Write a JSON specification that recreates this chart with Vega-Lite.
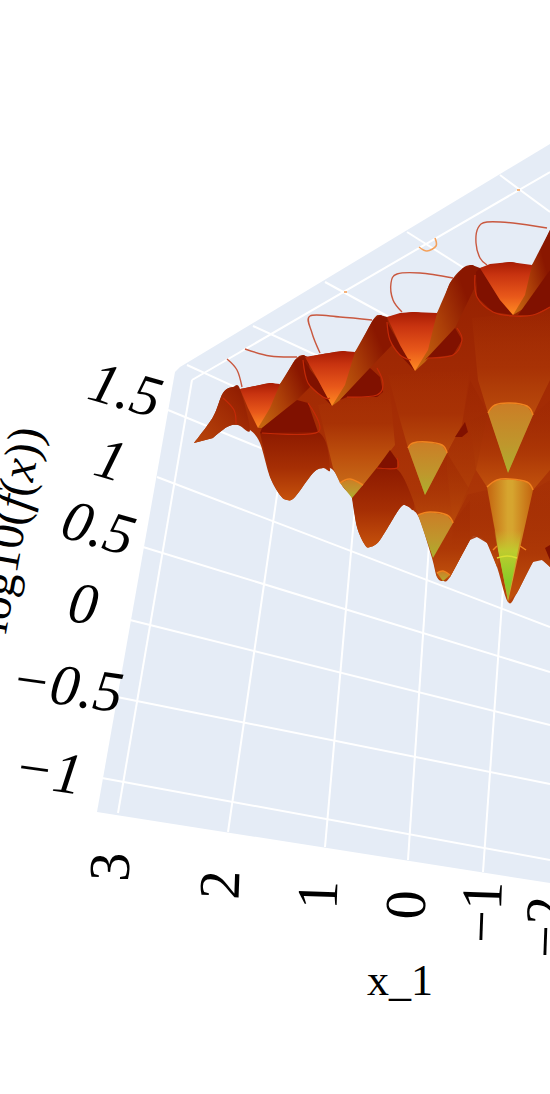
{
"$schema":"https://vega.github.io/schema/vega-lite/v6.json",
"width":550,"height":1094,"autosize":{"type":"none"},"padding":0,
"background":"white","view":{"stroke":null},
"config":{"axis":{"disable":true},"line":{"order":false}},
"encoding":{
"x":{"field":"x","type":"quantitative","scale":{"domain":[0,550],"range":[0,550]},"axis":null},
"y":{"field":"y","type":"quantitative","scale":{"domain":[0,1094],"range":[0,1094]},"axis":null},
"detail":{"field":"p"}},
"layer":[
{"data":{"values":[{"p":"w","x":97,"y":812},{"p":"w","x":175,"y":372},{"p":"w","x":180,"y":367},{"p":"w","x":550,"y":144},{"p":"w","x":550,"y":883}]},
"mark":{"type":"line","fill":"#e5ecf6","strokeWidth":0}},
{"data":{"values":[
{"x":168,"y":410,"x2":290,"y2":460},{"x":157,"y":477,"x2":550,"y2":627},{"x":143,"y":547,"x2":550,"y2":672},{"x":130,"y":620,"x2":550,"y2":725},{"x":117,"y":697,"x2":550,"y2":784},{"x":102,"y":778,"x2":550,"y2":860},
{"x":118,"y":813,"x2":192,"y2":380},{"x":228,"y":832,"x2":285,"y2":440},{"x":325,"y":847,"x2":360,"y2":450},{"x":408,"y":860,"x2":432,"y2":500},{"x":483,"y":872,"x2":505,"y2":560},
{"x":192,"y":380,"x2":550,"y2":172},{"x":187,"y":365,"x2":290,"y2":412},{"x":253,"y":326,"x2":370,"y2":380},{"x":325,"y":282,"x2":400,"y2":323},{"x":407,"y":232,"x2":475,"y2":275},{"x":500,"y":175,"x2":550,"y2":212}]},
"mark":{"type":"rule","color":"white","strokeWidth":2},"encoding":{"detail":null,"x2":{"field":"x2"},"y2":{"field":"y2"}}},
{"data":{"values":[
{"p":"a","x":547,"y":228},{"p":"a","x":513,"y":223},{"p":"a","x":487,"y":222},{"p":"a","x":478,"y":228},{"p":"a","x":476,"y":243},{"p":"a","x":480,"y":258},{"p":"a","x":487,"y":265},
{"p":"b","x":453,"y":278},{"p":"b","x":420,"y":273},{"p":"b","x":397,"y":274},{"p":"b","x":391,"y":283},{"p":"b","x":393,"y":300},{"p":"b","x":402,"y":312},
{"p":"c","x":372,"y":320},{"p":"c","x":340,"y":317},{"p":"c","x":310,"y":316},{"p":"c","x":312,"y":333},{"p":"c","x":320,"y":353},
{"p":"d","x":245,"y":349},{"p":"d","x":270,"y":356},{"p":"d","x":297,"y":357},
{"p":"e","x":227,"y":359},{"p":"e","x":237,"y":370},{"p":"e","x":242,"y":387}]},
"mark":{"type":"line","stroke":"#c9583f","strokeWidth":1.4,"interpolate":"cardinal"}},
{"data":{"values":[
{"p":"a","x":435,"y":238},{"p":"a","x":436,"y":246},{"p":"a","x":427,"y":251},{"p":"a","x":419,"y":247},
{"p":"b","x":344,"y":292},{"p":"b","x":347,"y":292},
{"p":"c","x":517,"y":190},{"p":"c","x":520,"y":190}]},
"mark":{"type":"line","stroke":"#f4a05a","strokeWidth":1.6,"interpolate":"cardinal"}},
{"data":{"values":[
{"p":"s","x":194,"y":443},{"p":"s","x":213,"y":417},{"p":"s","x":223,"y":393},{"p":"s","x":233,"y":387},{"p":"s","x":240,"y":389},{"p":"s","x":270,"y":383},{"p":"s","x":280,"y":384},{"p":"s","x":295,"y":360},{"p":"s","x":303,"y":355},{"p":"s","x":308,"y":357},{"p":"s","x":323,"y":354},{"p":"s","x":343,"y":351},{"p":"s","x":355,"y":352},{"p":"s","x":373,"y":320},{"p":"s","x":380,"y":315},{"p":"s","x":387,"y":317},{"p":"s","x":413,"y":312},{"p":"s","x":437,"y":313},{"p":"s","x":450,"y":283},{"p":"s","x":463,"y":268},{"p":"s","x":472,"y":265},{"p":"s","x":480,"y":268},{"p":"s","x":510,"y":262},{"p":"s","x":532,"y":265},{"p":"s","x":550,"y":230},{"p":"s","x":556,"y":218},{"p":"s","x":560,"y":300},{"p":"s","x":560,"y":520},{"p":"s","x":556,"y":575},
{"p":"s","x":550,"y":567},{"p":"s","x":542,"y":560},{"p":"s","x":533,"y":562},{"p":"s","x":517,"y":593},{"p":"s","x":508,"y":602},{"p":"s","x":497,"y":567},{"p":"s","x":487,"y":543},{"p":"s","x":477,"y":537},{"p":"s","x":470,"y":540},{"p":"s","x":450,"y":577},{"p":"s","x":443,"y":581},{"p":"s","x":437,"y":577},{"p":"s","x":432,"y":558},{"p":"s","x":420,"y":520},{"p":"s","x":413,"y":510},{"p":"s","x":407,"y":506},{"p":"s","x":400,"y":508},{"p":"s","x":380,"y":540},{"p":"s","x":370,"y":547},{"p":"s","x":365,"y":545},{"p":"s","x":357,"y":527},{"p":"s","x":352,"y":498},{"p":"s","x":343,"y":487},{"p":"s","x":333,"y":470},{"p":"s","x":323,"y":468},{"p":"s","x":313,"y":473},{"p":"s","x":295,"y":497},{"p":"s","x":287,"y":500},{"p":"s","x":280,"y":495},{"p":"s","x":270,"y":477},{"p":"s","x":260,"y":443},{"p":"s","x":250,"y":430},{"p":"s","x":238,"y":425},{"p":"s","x":227,"y":427},{"p":"s","x":213,"y":438}]},
"mark":{"type":"line","strokeWidth":0,"interpolate":"cardinal","fill":{"gradient":"linear","x1":0,"y1":0,"x2":0,"y2":1,"stops":[{"offset":0,"color":"#8f1c00"},{"offset":0.5,"color":"#a42c04"},{"offset":1,"color":"#b5420a"}]}}},
{"data":{"values":[
{"p":"l","x":194,"y":443},{"p":"l","x":213,"y":417},{"p":"l","x":223,"y":393},{"p":"l","x":233,"y":387},{"p":"l","x":240,"y":389},{"p":"l","x":250,"y":430},{"p":"l","x":238,"y":425},{"p":"l","x":227,"y":427},{"p":"l","x":213,"y":438}]},
"mark":{"type":"line","strokeWidth":0,"interpolate":"cardinal","fill":{"gradient":"linear","x1":0,"y1":1,"x2":1,"y2":0,"stops":[{"offset":0,"color":"#b8460c"},{"offset":0.6,"color":"#a02a04"},{"offset":1,"color":"#8a1800"}]}}},
{"data":{"values":[
{"p":"f4","x":260,"y":433},{"p":"f4","x":318,"y":432},{"p":"f4","x":330,"y":469},{"p":"f4","x":323,"y":468},{"p":"f4","x":313,"y":473},{"p":"f4","x":295,"y":497},{"p":"f4","x":287,"y":500},{"p":"f4","x":280,"y":495},{"p":"f4","x":270,"y":477},
{"p":"e3","x":352,"y":498},{"p":"e3","x":357,"y":527},{"p":"e3","x":365,"y":545},{"p":"e3","x":370,"y":547},{"p":"e3","x":380,"y":540},{"p":"e3","x":400,"y":508},{"p":"e3","x":407,"y":506},{"p":"e3","x":413,"y":510},{"p":"e3","x":413,"y":500},{"p":"e3","x":398,"y":470},{"p":"e3","x":377,"y":468},{"p":"e3","x":363,"y":485}]},
"mark":{"type":"line","strokeWidth":0,"interpolate":"cardinal","fill":{"gradient":"linear","x1":0,"y1":0,"x2":0,"y2":1,"stops":[{"offset":0,"color":"#8c1900"},{"offset":0.55,"color":"#a62f04"},{"offset":1,"color":"#c6520c"}]}}},
{"data":{"values":[
{"p":"e","x":318,"y":405},{"p":"e","x":390,"y":390},{"p":"e","x":395,"y":445},{"p":"e","x":363,"y":485},{"p":"e","x":350,"y":479},{"p":"e","x":340,"y":483},{"p":"e","x":333,"y":468},
{"p":"c","x":388,"y":375},{"p":"c","x":470,"y":370},{"p":"c","x":462,"y":425},{"p":"c","x":447,"y":453},{"p":"c","x":425,"y":495},{"p":"c","x":408,"y":448},{"p":"c","x":400,"y":420},
{"p":"a","x":472,"y":318},{"p":"a","x":550,"y":310},{"p":"a","x":550,"y":380},{"p":"a","x":533,"y":415},{"p":"a","x":508,"y":473},{"p":"a","x":488,"y":413},{"p":"a","x":478,"y":380}]},
"mark":{"type":"line","strokeWidth":0,"fill":{"gradient":"linear","x1":0,"y1":0,"x2":0,"y2":1,"stops":[{"offset":0,"color":"rgba(168,50,5,0)"},{"offset":0.35,"color":"#a83205"},{"offset":0.7,"color":"#bd500d"},{"offset":1,"color":"#c76a18"}]}}},
{"data":{"values":[
{"p":"g","x":470,"y":420},{"p":"g","x":488,"y":413},{"p":"g","x":508,"y":473},{"p":"g","x":533,"y":415},{"p":"g","x":550,"y":400},{"p":"g","x":550,"y":470},{"p":"g","x":533,"y":490},{"p":"g","x":487,"y":487},{"p":"g","x":476,"y":470},
{"p":"i","x":465,"y":495},{"p":"i","x":487,"y":490},{"p":"i","x":500,"y":560},{"p":"i","x":497,"y":567},{"p":"i","x":487,"y":543},{"p":"i","x":477,"y":537},{"p":"i","x":470,"y":540},{"p":"i","x":450,"y":577},{"p":"i","x":453,"y":523},
{"p":"j","x":453,"y":523},{"p":"j","x":470,"y":500},{"p":"j","x":470,"y":540},{"p":"j","x":450,"y":577},{"p":"j","x":443,"y":581},{"p":"j","x":437,"y":577},{"p":"j","x":433,"y":558},
{"p":"h","x":533,"y":490},{"p":"h","x":550,"y":480},{"p":"h","x":550,"y":567},{"p":"h","x":542,"y":560},{"p":"h","x":533,"y":562},{"p":"h","x":517,"y":593},{"p":"h","x":508,"y":602}]},
"mark":{"type":"line","strokeWidth":0,"fill":{"gradient":"linear","x1":0,"y1":0,"x2":0,"y2":1,"stops":[{"offset":0,"color":"rgba(154,36,2,0.2)"},{"offset":0.6,"color":"#ad3806"},{"offset":1,"color":"#c2530d"}]}}},
{"data":{"values":[
{"p":"k","x":470,"y":380},{"p":"k","x":488,"y":413},{"p":"k","x":476,"y":470},{"p":"k","x":465,"y":495},{"p":"k","x":453,"y":523},{"p":"k","x":447,"y":470},{"p":"k","x":447,"y":453},{"p":"k","x":462,"y":425},
{"p":"m","x":410,"y":490},{"p":"m","x":425,"y":495},{"p":"m","x":447,"y":453},{"p":"m","x":470,"y":490},{"p":"m","x":453,"y":523},{"p":"m","x":418,"y":515}]},
"mark":{"type":"line","strokeWidth":0,"fill":{"gradient":"linear","x1":0,"y1":0,"x2":0,"y2":1,"stops":[{"offset":0,"color":"rgba(150,32,0,0.3)"},{"offset":1,"color":"#b9490a"}]}}},
{"data":{"values":[
{"p":"r1","x":513,"y":315},{"p":"r1","x":532,"y":265},{"p":"r1","x":550,"y":230},{"p":"r1","x":550,"y":270},{"p":"r1","x":528,"y":306},
{"p":"r2","x":415,"y":371},{"p":"r2","x":437,"y":313},{"p":"r2","x":450,"y":283},{"p":"r2","x":463,"y":268},{"p":"r2","x":472,"y":265},{"p":"r2","x":480,"y":268},{"p":"r2","x":476,"y":285},{"p":"r2","x":455,"y":328},{"p":"r2","x":425,"y":362},
{"p":"r3","x":332,"y":406},{"p":"r3","x":355,"y":352},{"p":"r3","x":373,"y":320},{"p":"r3","x":380,"y":315},{"p":"r3","x":387,"y":317},{"p":"r3","x":392,"y":345},{"p":"r3","x":370,"y":368},{"p":"r3","x":340,"y":400},
{"p":"r4","x":258,"y":428},{"p":"r4","x":280,"y":384},{"p":"r4","x":295,"y":360},{"p":"r4","x":303,"y":355},{"p":"r4","x":308,"y":357},{"p":"r4","x":312,"y":385},{"p":"r4","x":297,"y":400},{"p":"r4","x":262,"y":428}]},
"mark":{"type":"line","strokeWidth":0,"fill":{"gradient":"linear","x1":0,"y1":0.8,"x2":0.8,"y2":0.3,"stops":[{"offset":0,"color":"#c4640f"},{"offset":0.5,"color":"#ac3f08"},{"offset":1,"color":"#8a1700"}]}}},
{"data":{"values":[
{"p":"d1","x":476,"y":272},{"p":"d1","x":480,"y":268},{"p":"d1","x":500,"y":300},{"p":"d1","x":513,"y":315},{"p":"d1","x":493,"y":312},{"p":"d1","x":477,"y":297},
{"p":"d1b","x":518,"y":315},{"p":"d1b","x":550,"y":270},{"p":"d1b","x":550,"y":307},{"p":"d1b","x":533,"y":315},
{"p":"d2","x":387,"y":322},{"p":"d2","x":400,"y":345},{"p":"d2","x":415,"y":371},{"p":"d2","x":400,"y":355},{"p":"d2","x":390,"y":340},
{"p":"d3","x":425,"y":360},{"p":"d3","x":455,"y":328},{"p":"d3","x":462,"y":340},{"p":"d3","x":453,"y":355},{"p":"d3","x":428,"y":358},
{"p":"d4","x":303,"y":360},{"p":"d4","x":318,"y":380},{"p":"d4","x":332,"y":406},{"p":"d4","x":323,"y":397},{"p":"d4","x":308,"y":383},
{"p":"d5","x":340,"y":400},{"p":"d5","x":370,"y":368},{"p":"d5","x":380,"y":377},{"p":"d5","x":383,"y":392},{"p":"d5","x":377,"y":397},{"p":"d5","x":347,"y":397},
{"p":"d6","x":262,"y":428},{"p":"d6","x":297,"y":400},{"p":"d6","x":308,"y":403},{"p":"d6","x":318,"y":432},{"p":"d6","x":260,"y":433},
{"p":"d7","x":377,"y":468},{"p":"d7","x":390,"y":450},{"p":"d7","x":397,"y":460},{"p":"d7","x":397,"y":468},
{"p":"d8","x":455,"y":437},{"p":"d8","x":465,"y":422},{"p":"d8","x":468,"y":432},{"p":"d8","x":462,"y":437},
{"p":"d9","x":545,"y":548},{"p":"d9","x":550,"y":545},{"p":"d9","x":550,"y":560}]},
"mark":{"type":"line","strokeWidth":0,"fill":"#801100"}},
{"data":{"values":[
{"p":"1","x":480,"y":268},{"p":"1","x":490,"y":264},{"p":"1","x":510,"y":262},{"p":"1","x":532,"y":265},{"p":"1","x":525,"y":295},{"p":"1","x":513,"y":315},{"p":"1","x":500,"y":300},
{"p":"2","x":387,"y":317},{"p":"2","x":400,"y":313},{"p":"2","x":413,"y":312},{"p":"2","x":437,"y":313},{"p":"2","x":428,"y":350},{"p":"2","x":415,"y":371},{"p":"2","x":400,"y":345},
{"p":"3","x":305,"y":357},{"p":"3","x":323,"y":354},{"p":"3","x":343,"y":351},{"p":"3","x":355,"y":352},{"p":"3","x":345,"y":385},{"p":"3","x":332,"y":406},{"p":"3","x":318,"y":380},
{"p":"4","x":240,"y":389},{"p":"4","x":270,"y":383},{"p":"4","x":280,"y":384},{"p":"4","x":270,"y":408},{"p":"4","x":258,"y":428},{"p":"4","x":248,"y":408}]},
"mark":{"type":"line","strokeWidth":0,"fill":{"gradient":"linear","x1":0,"y1":0,"x2":0,"y2":1,"stops":[{"offset":0,"color":"#a81c04"},{"offset":0.25,"color":"#c93410"},{"offset":0.65,"color":"#e8581a"},{"offset":1,"color":"#ff8c22"}]}}},
{"data":{"values":[
{"p":"A","x":488,"y":413},{"p":"A","x":495,"y":405},{"p":"A","x":510,"y":403},{"p":"A","x":527,"y":406},{"p":"A","x":533,"y":415},{"p":"A","x":508,"y":473},
{"p":"C","x":408,"y":448},{"p":"C","x":413,"y":443},{"p":"C","x":427,"y":442},{"p":"C","x":442,"y":445},{"p":"C","x":447,"y":453},{"p":"C","x":425,"y":495},
{"p":"D","x":418,"y":515},{"p":"D","x":430,"y":512},{"p":"D","x":447,"y":515},{"p":"D","x":453,"y":523},{"p":"D","x":433,"y":558},
{"p":"E","x":340,"y":483},{"p":"E","x":350,"y":479},{"p":"E","x":363,"y":485},{"p":"E","x":352,"y":498},
{"p":"G","x":437,"y":573},{"p":"G","x":443,"y":571},{"p":"G","x":450,"y":575},{"p":"G","x":443,"y":581}]},
"mark":{"type":"line","strokeWidth":0,"fill":{"gradient":"linear","x1":0,"y1":0,"x2":0,"y2":1,"stops":[{"offset":0,"color":"#cb7d26"},{"offset":0.6,"color":"#bf972c"},{"offset":1,"color":"#abb02e"}]}}},
{"data":{"values":[{"p":"B","x":487,"y":487},{"p":"B","x":497,"y":480},{"p":"B","x":510,"y":479},{"p":"B","x":527,"y":482},{"p":"B","x":533,"y":490},{"p":"B","x":508,"y":602}]},
"mark":{"type":"line","strokeWidth":0,"fill":{"gradient":"linear","x1":0,"y1":0,"x2":1,"y2":0,"stops":[{"offset":0,"color":"#c4640f"},{"offset":0.45,"color":"#d6a52f"},{"offset":0.55,"color":"#d6a52f"},{"offset":1,"color":"#c4640f"}]}}},
{"data":{"values":[{"p":"B2","x":494,"y":530},{"p":"B2","x":522,"y":530},{"p":"B2","x":508,"y":600}]},
"mark":{"type":"line","strokeWidth":0,"fill":{"gradient":"linear","x1":0,"y1":0,"x2":0,"y2":1,"stops":[{"offset":0,"color":"rgba(200,190,45,0)"},{"offset":0.3,"color":"#bfcb2e"},{"offset":0.75,"color":"#86cc28"},{"offset":1,"color":"#aeb02c"}]}}},
{"data":{"values":[
{"p":"1","x":475,"y":275},{"p":"1","x":477,"y":297},{"p":"1","x":493,"y":312},{"p":"1","x":513,"y":316},{"p":"1","x":533,"y":315},{"p":"1","x":550,"y":307},
{"p":"2","x":387,"y":322},{"p":"2","x":390,"y":340},{"p":"2","x":400,"y":355},{"p":"2","x":411,"y":360},
{"p":"2b","x":427,"y":358},{"p":"2b","x":453,"y":355},{"p":"2b","x":462,"y":340},{"p":"2b","x":457,"y":328},
{"p":"3","x":303,"y":360},{"p":"3","x":308,"y":383},{"p":"3","x":323,"y":397},{"p":"3","x":330,"y":398},
{"p":"3b","x":347,"y":397},{"p":"3b","x":377,"y":395},{"p":"3b","x":383,"y":383},{"p":"3b","x":377,"y":368},
{"p":"4","x":262,"y":433},{"p":"4","x":318,"y":432},{"p":"4","x":308,"y":403},
{"p":"5","x":223,"y":398},{"p":"5","x":234,"y":410},{"p":"5","x":236,"y":424},
{"p":"6","x":377,"y":468},{"p":"6","x":397,"y":468},{"p":"6","x":397,"y":458}]},
"mark":{"type":"line","stroke":"#c42a08","strokeWidth":1.2,"interpolate":"cardinal"}},
{"data":{"values":[
{"p":"A","x":488,"y":413},{"p":"A","x":495,"y":405},{"p":"A","x":510,"y":403},{"p":"A","x":527,"y":406},{"p":"A","x":533,"y":415},
{"p":"C","x":408,"y":448},{"p":"C","x":413,"y":443},{"p":"C","x":427,"y":442},{"p":"C","x":442,"y":445},{"p":"C","x":447,"y":453},
{"p":"D","x":418,"y":515},{"p":"D","x":430,"y":512},{"p":"D","x":447,"y":515},{"p":"D","x":453,"y":523},
{"p":"E","x":340,"y":483},{"p":"E","x":350,"y":479},{"p":"E","x":363,"y":485},
{"p":"G","x":437,"y":573},{"p":"G","x":443,"y":571},{"p":"G","x":450,"y":575},
{"p":"B","x":487,"y":487},{"p":"B","x":497,"y":480},{"p":"B","x":510,"y":479},{"p":"B","x":527,"y":482},{"p":"B","x":533,"y":490},
{"p":"H","x":493,"y":550},{"p":"H","x":497,"y":546},
{"p":"I","x":520,"y":546},{"p":"I","x":526,"y":550}]},
"mark":{"type":"line","stroke":"#f0841f","strokeWidth":1.5,"interpolate":"cardinal"}},
{"data":{"values":[{"p":"Y","x":497,"y":558},{"p":"Y","x":507,"y":556},{"p":"Y","x":517,"y":558}]},
"mark":{"type":"line","stroke":"#dbe032","strokeWidth":1.5,"interpolate":"cardinal"}},
{"data":{"values":[{"t":"1.5","x":125,"y":392},{"t":"1","x":110,"y":462},{"t":"0.5","x":98,"y":530}]},
"mark":{"type":"text","font":"Liberation Serif","fontStyle":"italic","fontSize":58,"angle":16,"baseline":"middle","align":"center","color":"black"},"encoding":{"detail":null,"text":{"field":"t"}}},
{"data":{"values":[{"t":"0","x":83,"y":606},{"t":"−0.5","x":67,"y":688},{"t":"−1","x":48,"y":773}]},
"mark":{"type":"text","font":"Liberation Serif","fontStyle":"italic","fontSize":58,"angle":8,"baseline":"middle","align":"center","color":"black"},"encoding":{"detail":null,"text":{"field":"t"}}},
{"data":{"values":[{"t":"3","x":112,"y":867},{"t":"2","x":222,"y":885},{"t":"1","x":320,"y":895},{"t":"0","x":408,"y":905},{"t":"−1","x":484,"y":912},{"t":"−2","x":548,"y":927}]},
"mark":{"type":"text","font":"Liberation Serif","fontSize":58,"angle":272,"baseline":"middle","align":"center","color":"black"},"encoding":{"detail":null,"text":{"field":"t"}}},
{"data":{"values":[{"t":"x_1","x":400,"y":995}]},
"mark":{"type":"text","font":"Liberation Serif","fontSize":44,"baseline":"alphabetic","align":"center","color":"black"},"encoding":{"detail":null,"text":{"field":"t"}}},
{"data":{"values":[{"t":"log10(","x":27.6,"y":511.4},{"t":"(","x":32.7,"y":482.5},{"t":"))","x":42,"y":430}]},
"mark":{"type":"text","font":"Liberation Serif","fontSize":48,"angle":280,"baseline":"alphabetic","align":"right","color":"black"},"encoding":{"detail":null,"text":{"field":"t"}}},
{"data":{"values":[{"t":"f","x":30,"y":498},{"t":"x","x":36.4,"y":461.5}]},
"mark":{"type":"text","font":"Liberation Serif","fontStyle":"italic","fontSize":48,"angle":280,"baseline":"alphabetic","align":"right","color":"black"},"encoding":{"detail":null,"text":{"field":"t"}}}
]}
